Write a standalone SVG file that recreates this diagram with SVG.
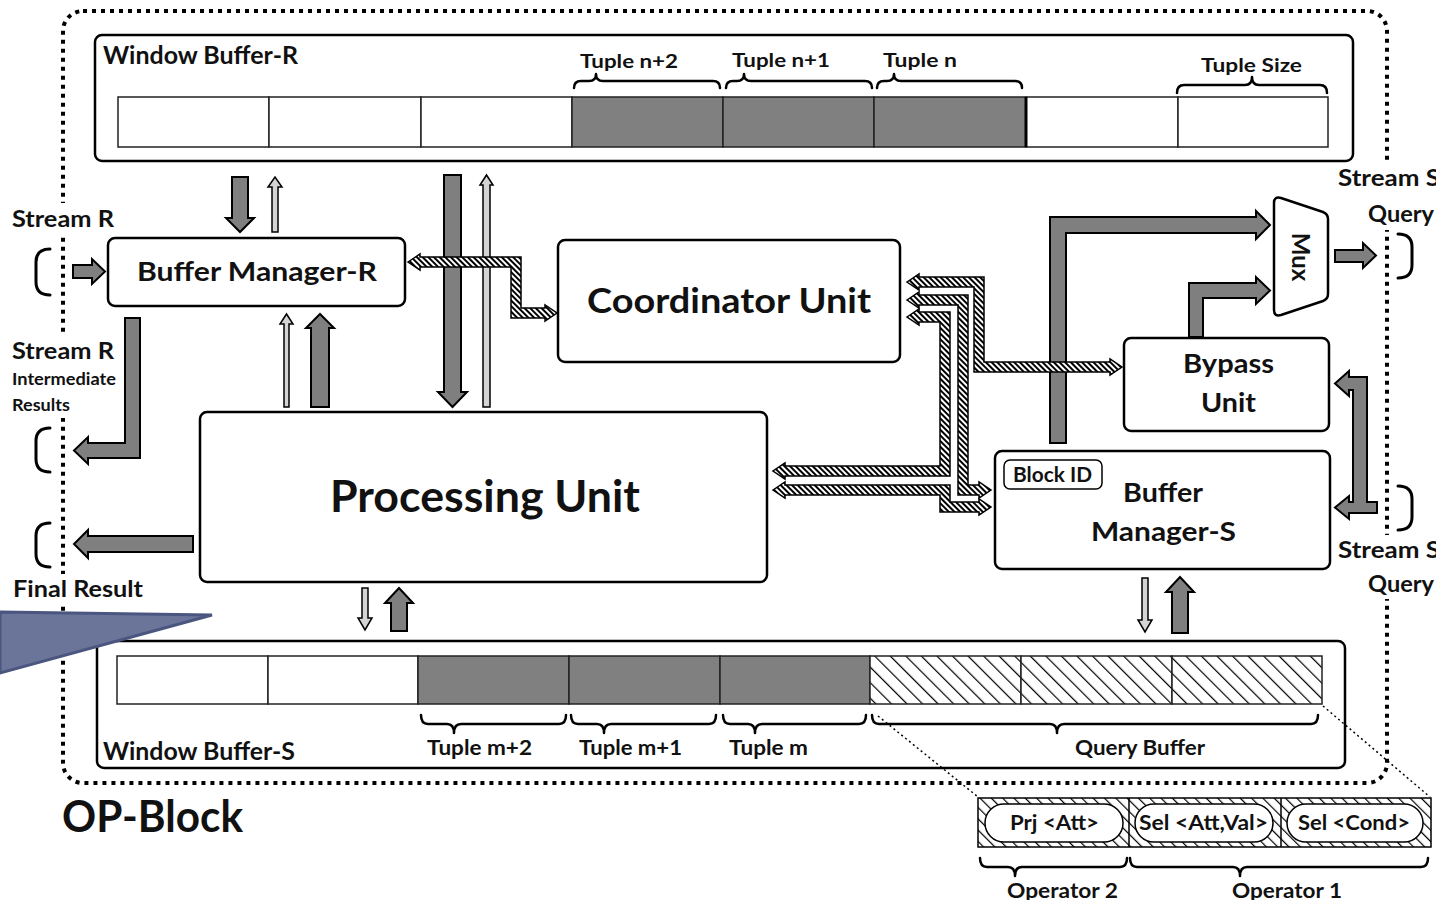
<svg xmlns="http://www.w3.org/2000/svg" width="1452" height="900" viewBox="0 0 1452 900">
<defs>
<style>
.box{fill:#fff;stroke:#000;stroke-width:2.5}
.cell{stroke:#222;stroke-width:1.5}
.t{font-family:Lato,"Liberation Sans",sans-serif;font-weight:700;fill:#111}
.ga{fill:#7f7f7f;stroke:#000;stroke-width:2}
.la{fill:#d4d4d4;stroke:#000;stroke-width:1.5}
.ha{fill:url(#hatch);stroke:#000;stroke-width:1.5}
.br{fill:none;stroke:#000;stroke-width:2.5;stroke-linecap:round;stroke-linejoin:round}
.bk{fill:none;stroke:#000;stroke-width:3;stroke-linecap:round}
.bg{fill:#fff}
.dl{fill:none;stroke:#000;stroke-width:1.5;stroke-dasharray:2 3}
</style>
<pattern id="hatch" width="4" height="4" patternUnits="userSpaceOnUse" patternTransform="rotate(-45)"><rect width="4" height="4" fill="#fff"/><rect width="2" height="4" fill="#000"/></pattern>
<pattern id="qhatch" width="11" height="11" patternUnits="userSpaceOnUse" patternTransform="rotate(-45)"><rect width="11" height="11" fill="#fff"/><rect width="1.2" height="11" fill="#000"/></pattern>
<pattern id="ohatch" width="8" height="8" patternUnits="userSpaceOnUse" patternTransform="rotate(-45)"><rect width="8" height="8" fill="#fff"/><rect width="1.2" height="8" fill="#000"/></pattern>
<clipPath id="crop"><rect width="1436" height="900"/></clipPath>
</defs>
<rect width="1452" height="900" fill="#fff"/>
<g clip-path="url(#crop)">
<!-- OP-Block boundary -->
<g id="op-block">
<rect x="63" y="11" width="1324" height="772" rx="20" fill="none" stroke="#000" stroke-width="4" stroke-dasharray="4 5"/>
<text class="t" x="62" y="832" font-size="44" textLength="181" lengthAdjust="spacingAndGlyphs">OP-Block</text>
</g>
<!-- label backgrounds covering the dotted boundary -->
<rect class="bg" x="8" y="203" width="110" height="30"/>
<rect class="bg" x="8" y="336" width="112" height="82"/>
<rect class="bg" x="8" y="574" width="140" height="32"/>
<rect class="bg" x="1334" y="164" width="102" height="66"/>
<rect class="bg" x="1334" y="535" width="102" height="64"/>

<!-- Window Buffer-R -->
<g id="window-buffer-r">
<rect class="box" x="95" y="35" width="1258" height="126" rx="7" stroke-width="3"/>
<text class="t" x="103" y="64" font-size="24" textLength="195" lengthAdjust="spacingAndGlyphs">Window Buffer-R</text>
<rect class="cell" x="118" y="97" width="151" height="50" fill="#fff"/>
<rect class="cell" x="269" y="97" width="152" height="50" fill="#fff"/>
<rect class="cell" x="421" y="97" width="151" height="50" fill="#fff"/>
<rect class="cell" x="572" y="97" width="151" height="50" fill="#808080"/>
<rect class="cell" x="723" y="97" width="151" height="50" fill="#808080"/>
<rect class="cell" x="874" y="97" width="152" height="50" fill="#808080"/>
<rect class="cell" x="1026" y="97" width="152" height="50" fill="#fff"/>
<rect class="cell" x="1178" y="97" width="150" height="50" fill="#fff"/>
<line x1="1026" y1="97" x2="1026" y2="147" stroke="#000" stroke-width="3"/>
<path class="br" d="M574,88 Q574,81 581,81 L589,81 Q596,81 596,74 Q596,81 603,81 L713,81 Q720,81 720,88"/>
<path class="br" d="M726,88 Q726,81 733,81 L737,81 Q744,81 744,74 Q744,81 751,81 L865,81 Q872,81 872,88"/>
<path class="br" d="M877,88 Q877,81 884,81 L887,81 Q894,81 894,74 Q894,81 901,81 L1015,81 Q1022,81 1022,88"/>
<path class="br" d="M1177,93 Q1177,85 1184,85 L1245,85 Q1252,85 1252,77 Q1252,85 1259,85 L1320,85 Q1327,85 1327,93"/>
<text class="t" x="580" y="68" font-size="19" textLength="98" lengthAdjust="spacingAndGlyphs">Tuple n+2</text>
<text class="t" x="732" y="67" font-size="19" textLength="98" lengthAdjust="spacingAndGlyphs">Tuple n+1</text>
<text class="t" x="883" y="67" font-size="19" textLength="74" lengthAdjust="spacingAndGlyphs">Tuple n</text>
<text class="t" x="1201" y="72" font-size="19" textLength="101" lengthAdjust="spacingAndGlyphs">Tuple Size</text>
</g>

<!-- Window Buffer-S -->
<g id="window-buffer-s">
<rect class="box" x="97" y="641" width="1248" height="127" rx="7" stroke-width="3"/>
<rect class="cell" x="117" y="656" width="151" height="48" fill="#fff"/>
<rect class="cell" x="268" y="656" width="150" height="48" fill="#fff"/>
<rect class="cell" x="418" y="656" width="151" height="48" fill="#808080"/>
<rect class="cell" x="569" y="656" width="151" height="48" fill="#808080"/>
<rect class="cell" x="720" y="656" width="150" height="48" fill="#808080"/>
<rect class="cell" x="870" y="656" width="151" height="48" fill="url(#qhatch)"/>
<rect class="cell" x="1021" y="656" width="151" height="48" fill="url(#qhatch)"/>
<rect class="cell" x="1172" y="656" width="150" height="48" fill="url(#qhatch)"/>
<path class="br" d="M421,715 Q421,724 428,724 L447,724 Q454,724 454,733 Q454,724 461,724 L559,724 Q566,724 566,715"/>
<path class="br" d="M571,715 Q571,724 578,724 L597,724 Q604,724 604,733 Q604,724 611,724 L709,724 Q716,724 716,715"/>
<path class="br" d="M723,715 Q723,724 730,724 L748,724 Q755,724 755,733 Q755,724 762,724 L859,724 Q866,724 866,715"/>
<path class="br" d="M872,715 Q872,724 879,724 L1050,724 Q1057,724 1057,733 Q1057,724 1064,724 L1311,724 Q1318,724 1318,715"/>
<text class="t" x="103" y="760" font-size="24" textLength="192" lengthAdjust="spacingAndGlyphs">Window Buffer-S</text>
<text class="t" x="427" y="755" font-size="20" textLength="105" lengthAdjust="spacingAndGlyphs">Tuple m+2</text>
<text class="t" x="579" y="755" font-size="20" textLength="103" lengthAdjust="spacingAndGlyphs">Tuple m+1</text>
<text class="t" x="729" y="755" font-size="20" textLength="79" lengthAdjust="spacingAndGlyphs">Tuple m</text>
<text class="t" x="1075" y="755" font-size="20" textLength="130" lengthAdjust="spacingAndGlyphs">Query Buffer</text>
</g>

<!-- Query operators detail -->
<g id="query-operators">
<line class="dl" x1="878" y1="716" x2="978" y2="797"/>
<line class="dl" x1="1323" y1="706" x2="1430" y2="797"/>
<rect x="978" y="798" width="453" height="49" fill="url(#ohatch)" stroke="#000" stroke-width="1.5"/>
<line x1="1129" y1="798" x2="1129" y2="847" stroke="#000" stroke-width="1.5"/>
<line x1="1281" y1="798" x2="1281" y2="847" stroke="#000" stroke-width="1.5"/>
<rect x="985" y="804" width="138" height="38" rx="19" fill="#fff" stroke="#000" stroke-width="1.5"/>
<rect x="1135" y="804" width="138" height="38" rx="19" fill="#fff" stroke="#000" stroke-width="1.5"/>
<rect x="1287" y="804" width="136" height="38" rx="19" fill="#fff" stroke="#000" stroke-width="1.5"/>
<text class="t" x="1010" y="830" font-size="20" textLength="89" lengthAdjust="spacingAndGlyphs">Prj &lt;Att&gt;</text>
<text class="t" x="1139" y="830" font-size="20" textLength="129" lengthAdjust="spacingAndGlyphs">Sel &lt;Att,Val&gt;</text>
<text class="t" x="1298" y="830" font-size="20" textLength="112" lengthAdjust="spacingAndGlyphs">Sel &lt;Cond&gt;</text>
<path class="br" d="M980,858 Q980,867 987,867 L1008,867 Q1015,867 1015,876 Q1015,867 1022,867 L1120,867 Q1127,867 1127,858"/>
<path class="br" d="M1130,858 Q1130,867 1137,867 L1233,867 Q1240,867 1240,876 Q1240,867 1247,867 L1421,867 Q1428,867 1428,858"/>
<text class="t" x="1007" y="898" font-size="20" textLength="111" lengthAdjust="spacingAndGlyphs">Operator 2</text>
<text class="t" x="1232" y="898" font-size="20" textLength="110" lengthAdjust="spacingAndGlyphs">Operator 1</text>
</g>

<!-- Nodes -->
<g id="buffer-manager-r">
<rect class="box" x="108" y="238" width="297" height="68" rx="7"/>
<text class="t" x="137" y="281" font-size="26" textLength="240" lengthAdjust="spacingAndGlyphs">Buffer Manager-R</text>
</g>
<g id="coordinator-unit">
<rect class="box" x="558" y="240" width="342" height="122" rx="7"/>
<text class="t" x="587" y="313" font-size="35" textLength="284" lengthAdjust="spacingAndGlyphs">Coordinator Unit</text>
</g>
<g id="processing-unit">
<rect class="box" x="200" y="412" width="567" height="170" rx="7"/>
<text class="t" x="330" y="512" font-size="44" textLength="310" lengthAdjust="spacingAndGlyphs">Processing Unit</text>
</g>
<g id="bypass-unit">
<rect class="box" x="1124" y="338" width="205" height="93" rx="7"/>
<text class="t" x="1183" y="373" font-size="26" textLength="91" lengthAdjust="spacingAndGlyphs">Bypass</text>
<text class="t" x="1201" y="412" font-size="26" textLength="55" lengthAdjust="spacingAndGlyphs">Unit</text>
</g>
<g id="buffer-manager-s">
<rect class="box" x="995" y="451" width="335" height="118" rx="7"/>
<rect x="1004" y="460" width="98" height="29" rx="6" fill="#fff" stroke="#000" stroke-width="1.5"/>
<text class="t" x="1013" y="482" font-size="20" textLength="79" lengthAdjust="spacingAndGlyphs">Block ID</text>
<text class="t" x="1123" y="502" font-size="26" textLength="80" lengthAdjust="spacingAndGlyphs">Buffer</text>
<text class="t" x="1091" y="541" font-size="26" textLength="145" lengthAdjust="spacingAndGlyphs">Manager-S</text>
</g>
<g id="mux">
<path d="M1274,203 Q1274,196 1281,198 L1323,212 Q1328,214 1328,219 L1328,294 Q1328,299 1323,301 L1281,315 Q1274,317 1274,310 Z" fill="#fff" stroke="#000" stroke-width="2.5"/>
<text class="t" transform="translate(1300,257) rotate(90)" x="0" y="8" font-size="24" text-anchor="middle">Mux</text>
</g>

<!-- External stream labels -->
<g id="stream-r-in">
<text class="t" x="12" y="227" font-size="23" textLength="102" lengthAdjust="spacingAndGlyphs">Stream R</text>
<path class="bk" d="M50,249 Q36,249 36,262 L36,282 Q36,295 50,295"/>
</g>
<g id="stream-r-intermediate">
<text class="t" x="12" y="359" font-size="23" textLength="102" lengthAdjust="spacingAndGlyphs">Stream R</text>
<text class="t" x="12" y="385" font-size="17" textLength="104" lengthAdjust="spacingAndGlyphs">Intermediate</text>
<text class="t" x="12" y="411" font-size="17" textLength="58" lengthAdjust="spacingAndGlyphs">Results</text>
<path class="bk" d="M50,428 Q36,428 36,441 L36,459 Q36,472 50,472"/>
</g>
<g id="final-result">
<path class="bk" d="M50,523 Q36,523 36,536 L36,554 Q36,567 50,567"/>
<text class="t" x="13" y="597" font-size="23" textLength="130" lengthAdjust="spacingAndGlyphs">Final Result</text>
</g>
<g id="stream-s-query-out">
<text class="t" x="1338" y="186" font-size="23" textLength="102" lengthAdjust="spacingAndGlyphs">Stream S</text>
<text class="t" x="1368" y="222" font-size="23" textLength="66" lengthAdjust="spacingAndGlyphs">Query</text>
<path class="bk" d="M1398,234 Q1412,234 1412,247 L1412,265 Q1412,278 1398,278"/>
</g>
<g id="stream-s-query-in">
<path class="bk" d="M1398,486 Q1412,486 1412,499 L1412,517 Q1412,530 1398,530"/>
<text class="t" x="1338" y="558" font-size="23" textLength="102" lengthAdjust="spacingAndGlyphs">Stream S</text>
<text class="t" x="1368" y="592" font-size="23" textLength="66" lengthAdjust="spacingAndGlyphs">Query</text>
</g>

<!-- Connectors -->
<g id="connectors">
<polygon class="ga" points="232,177 248,177 248,218 254,218 240,232 226,218 232,218"/>
<polygon class="la" points="272,232 272,187 268,187 275,177 282,187 278,187 278,232"/>
<polygon class="ga" points="444,175 461,175 461,392 467,392 452.5,407 438,392 444,392"/>
<polygon class="la" points="483,407 483,185 480,185 486.5,175 493,185 490,185 490,407"/>
<polygon class="la" points="284,407 284,324 280,324 286.5,314 293,324 289,324 289,407"/>
<polygon class="ga" points="311,407 311,328 306,328 320,314 334,328 329,328 329,407"/>
<polygon class="ga" points="73,265 92,265 92,259 105,271.5 92,284 92,278 73,278"/>
<polygon class="ga" points="125,318 140,318 140,458 88,458 88,464 74,450.5 88,437 88,443 125,443"/>
<polygon class="ga" points="193,536 193,552 88,552 88,558 74,544 88,530 88,536"/>
<polygon class="ga" points="1050,443 1050,217 1256,217 1256,211 1270,225 1256,239 1256,233 1066,233 1066,443"/>
<polygon class="ga" points="1189,337 1189,283 1256,283 1256,277 1270,290.5 1256,304 1256,298 1203,298 1203,337"/>
<polygon class="ga" points="1335,250 1363,250 1363,243 1376,255.5 1363,268 1363,262 1335,262"/>
<polygon class="ga" points="1377,502 1377,513 1349,513 1349,519 1335,507.5 1349,496 1349,502 1353,502 1353,390 1349,390 1349,396 1335,383.5 1349,371 1349,377 1367,377 1367,502"/>
<polygon class="la" points="1142,578 1148,578 1148,620 1152,620 1145,632 1138,620 1142,620"/>
<polygon class="ga" points="1172,633 1172,592 1166,592 1180,577 1194,592 1188,592 1188,633"/>
<polygon class="la" points="362,588 368,588 368,618 372,618 365,630 358,618 362,618"/>
<polygon class="ga" points="391,631 391,603 385,603 399,588 413,603 407,603 407,631"/>
<polygon class="ha" points="408,262 420,254 420,257 521,257 521,308 545,308 545,305 557,313 545,321 545,318 511,318 511,267 420,267 420,270"/>
<polygon class="ha" points="907,282 919,274 919,277 984,277 984,362 1110,362 1110,359 1122,367 1110,375 1110,372 974,372 974,287 919,287 919,290"/>
<polygon class="ha" points="907,300 919,292 919,295 968,295 968,485 979,485 979,482 991,490 979,498 979,495 958,495 958,305 919,305 919,308"/>
<polygon class="ha" points="907,317 919,309 919,312 950,312 950,476 785,476 785,479 773,471 785,463 785,466 940,466 940,322 919,322 919,325"/>
<polygon class="ha" points="773,490 785,482 785,485 950,485 950,502 979,502 979,499 991,507 979,515 979,512 940,512 940,495 785,495 785,498"/>
</g>

<!-- callout wedge -->
<polygon points="0,612 212,615 0,673" fill="#6b7599" stroke="#4a5680" stroke-width="3"/>
</g>
</svg>
